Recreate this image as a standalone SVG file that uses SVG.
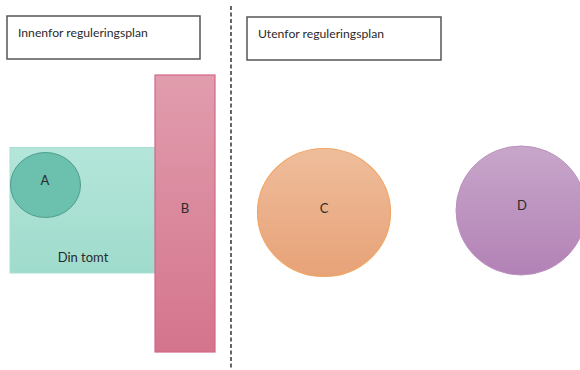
<svg xmlns="http://www.w3.org/2000/svg" width="580" height="370" viewBox="0 0 580 370">
<defs>
<linearGradient id="gGreen" x1="0" y1="0" x2="0" y2="1"><stop offset="0" stop-color="#b4e6da"/><stop offset="1" stop-color="#9fdbcc"/></linearGradient>
<linearGradient id="gPink" x1="0" y1="0" x2="0" y2="1"><stop offset="0" stop-color="#e19dad"/><stop offset="1" stop-color="#d4748d"/></linearGradient>
<linearGradient id="gOrange" x1="0" y1="0" x2="0" y2="1"><stop offset="0" stop-color="#efbd9b"/><stop offset="1" stop-color="#e7a278"/></linearGradient>
<linearGradient id="gPurple" x1="0" y1="0" x2="0" y2="1"><stop offset="0" stop-color="#c8a6ca"/><stop offset="1" stop-color="#b282b6"/></linearGradient>
</defs>
<style>
text{font-family:Lato,"Liberation Sans",sans-serif;fill:#2a2a2a;}
.hdr{font-size:12.2px;}
.lbl{font-size:13px;text-anchor:middle;}
.box{fill:#fff;stroke:#555;stroke-width:1.5;}
</style>
<rect width="580" height="370" fill="#fff"/>
<g id="connectors">
<line x1="231" y1="6" x2="231" y2="370" stroke="#666" stroke-width="2" stroke-dasharray="4 2.5"/>
</g>
<g id="innenfor">
<rect class="box" x="7" y="16" width="193" height="43"/>
<text class="hdr" x="18" y="37">Innenfor reguleringsplan</text>
</g>
<g id="utenfor">
<rect class="box" x="247" y="17" width="194" height="43"/>
<text class="hdr" x="258" y="38">Utenfor reguleringsplan</text>
</g>
<g id="dintomt">
<rect x="10" y="147.5" width="148" height="125.5" fill="url(#gGreen)" stroke="#a8dfd2" stroke-width="1"/>
<text class="lbl" x="83" y="262">Din tomt</text>
</g>
<g id="A">
<ellipse cx="45.5" cy="185" rx="35" ry="32.5" fill="#6cc1ae" stroke="#4f9c8b" stroke-width="1"/>
<text class="lbl" x="45" y="185">A</text>
</g>
<g id="B">
<rect x="155" y="75" width="60" height="277" fill="url(#gPink)" stroke="#d2668a" stroke-width="1.2"/>
<text class="lbl" x="185" y="213">B</text>
</g>
<g id="C">
<ellipse cx="324" cy="212.5" rx="66.5" ry="64" fill="url(#gOrange)" stroke="#f1a666" stroke-width="1.2"/>
<text class="lbl" x="324" y="213">C</text>
</g>
<g id="D">
<ellipse cx="521" cy="210.5" rx="65" ry="64.5" fill="url(#gPurple)" stroke="#bb90be" stroke-width="1"/>
<text class="lbl" x="522" y="210">D</text>
</g>
</svg>
